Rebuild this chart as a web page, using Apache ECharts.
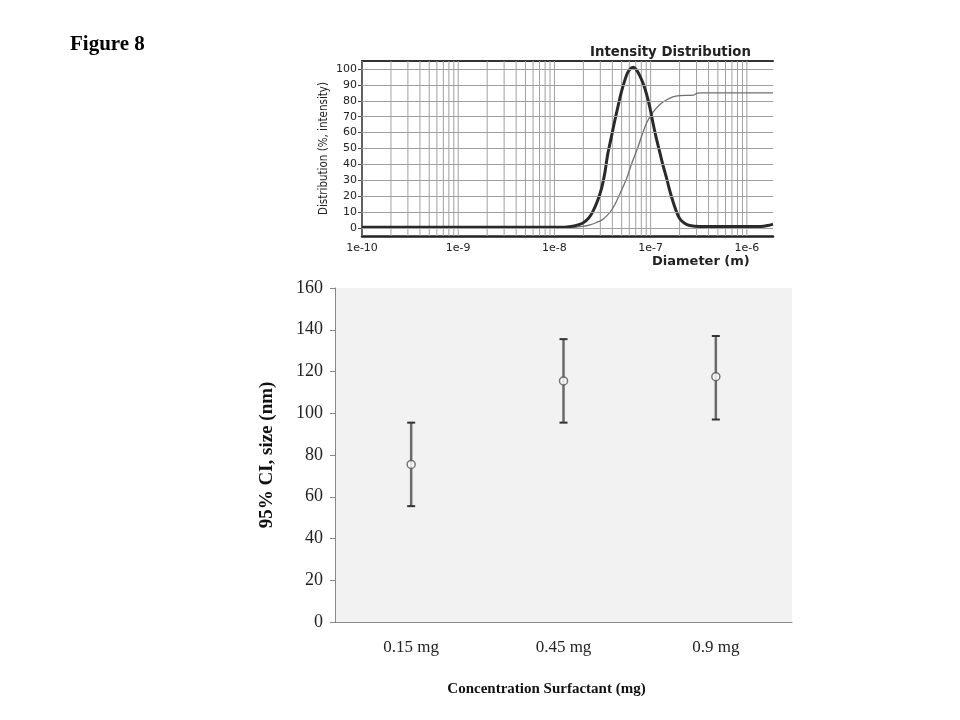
<!DOCTYPE html>
<html><head><meta charset="utf-8">
<script src="https://cdn.jsdelivr.net/npm/echarts@6/dist/echarts.min.js"></script>
<style>html,body{margin:0;padding:0;background:#fff}#c{width:960px;height:720px}</style>
</head><body><div id="c"></div>
<script>
// ---- Top panel: intensity distribution (diameter in m, value in %) ----
const intensityCurve = [
  [1e-10, 0.5], [1.0e-8, 0.5], [1.35e-8, 0.7], [1.65e-8, 1.5], [1.96e-8, 3], [2.25e-8, 6],
  [2.49e-8, 10], [2.8e-8, 17], [3.09e-8, 25], [3.35e-8, 35], [3.57e-8, 46], [3.9e-8, 57],
  [4.22e-8, 67], [4.6e-8, 77], [4.99e-8, 86], [5.4e-8, 93], [5.75e-8, 97.5], [6.2e-8, 100.3],
  [6.6e-8, 101], [7.1e-8, 99.5], [7.68e-8, 96], [8.4e-8, 90.5], [9.08e-8, 84], [9.8e-8, 76],
  [1.05e-7, 67], [1.14e-7, 57], [1.24e-7, 48], [1.35e-7, 39], [1.47e-7, 31], [1.58e-7, 23.5],
  [1.70e-7, 17], [1.85e-7, 10.5], [2.0e-7, 6], [2.25e-7, 3], [2.55e-7, 1.6], [3.24e-7, 1],
  [1.4e-6, 1], [1.65e-6, 1.6], [1.87e-6, 2.5]
];
const cumulativeCurve = [
  [1e-10, 0.3], [1.2e-8, 0.3], [1.6e-8, 0.5], [1.96e-8, 1], [2.35e-8, 2], [2.74e-8, 3.5],
  [3.1e-8, 5], [3.48e-8, 7.5], [3.95e-8, 11.5], [4.43e-8, 17], [5.0e-8, 24], [5.62e-8, 31],
  [6.4e-8, 41], [7.3e-8, 50], [8.1e-8, 58], [9.08e-8, 66], [1.05e-7, 72.5], [1.24e-7, 77.5],
  [1.47e-7, 80.6], [1.70e-7, 82.5], [2.0e-7, 83.3], [2.8e-7, 83.6], [3.05e-7, 84.8],
  [3.4e-7, 85], [1.87e-6, 85]
];
const distYTicks = [0, 10, 20, 30, 40, 50, 60, 70, 80, 90, 100];
const decadeExponents = [-10, -9, -8, -7, -6];
const minorMultipliers = [2, 3, 4, 5, 6, 7, 8, 9];
const diameterMin = 1e-10, diameterMax = 1.87e-6;
const distMin = -5, distMax = 105;

// ---- Bottom panel: 95% CI size ----
const categories = ['0.15 mg', '0.45 mg', '0.9 mg'];
const meanSize = [75.5, 115.5, 117.5];
const lowerCI = [55.5, 95.5, 97];
const upperCI = [95.5, 135.5, 137];

const gridValues = [];
decadeExponents.forEach(e => {
  gridValues.push(Math.pow(10, e));
  minorMultipliers.forEach(m => { const v = m * Math.pow(10, e); if (v < diameterMax) gridValues.push(v); });
});

const serif = 'Liberation Serif, Times New Roman, serif';
const sans = 'DejaVu Sans, sans-serif';
const gridColor = '#a0a0a0';

const chart = echarts.init(document.getElementById('c'), null, {renderer: 'canvas'});
chart.setOption({
  animation: false,
  backgroundColor: '#fff',
  title: [
    {text: 'Figure 8', left: 65, top: 29, textStyle: {fontFamily: serif, fontWeight: 'bold', fontSize: 21, color: '#000'}},
    {text: 'Intensity Distribution', left: 585, top: 41, textStyle: {fontFamily: sans, fontWeight: 'bold', fontSize: 13.3, color: '#222'}},
    {text: 'Diameter (m)', left: 647, top: 250, textStyle: {fontFamily: sans, fontWeight: 'bold', fontSize: 13, color: '#222'}}
  ],
  grid: [
    {left: 362, top: 61, width: 411, height: 175},
    {left: 335, top: 288, width: 457, height: 334, show: true, backgroundColor: '#f2f2f2', borderWidth: 0}
  ],
  xAxis: [
    {gridIndex: 0, type: 'log', logBase: 10, min: diameterMin, max: diameterMax,
     axisLine: {onZero: false, lineStyle: {color: '#222', width: 2.5}},
     axisTick: {show: false}, splitLine: {show: false},
     axisLabel: {formatter: v => '1e' + Math.round(Math.log10(v)), showMaxLabel: false,
                 fontFamily: sans, fontSize: 11, color: '#222', margin: 7}},
    {gridIndex: 0, type: 'log', logBase: 10, position: 'top', min: diameterMin, max: diameterMax,
     axisLine: {onZero: false, lineStyle: {color: '#333', width: 2}},
     axisTick: {show: false}, axisLabel: {show: false}, splitLine: {show: false}},
    {gridIndex: 1, type: 'category', data: categories,
     axisLine: {lineStyle: {color: '#888', width: 1}},
     axisTick: {length: 8, lineStyle: {color: '#888'}},
     axisLabel: {fontFamily: serif, fontSize: 17, color: '#222', margin: 17},
     name: 'Concentration Surfactant (mg)', nameLocation: 'middle', nameGap: 60,
     nameTextStyle: {fontFamily: serif, fontWeight: 'bold', fontSize: 15, color: '#111', padding: [0, 34, 0, 0]}}
  ],
  yAxis: [
    {gridIndex: 0, type: 'value', min: distMin, max: distMax,
     axisLine: {show: true, onZero: false, lineStyle: {color: '#222', width: 2}},
     axisTick: {show: true, customValues: distYTicks, length: 4, lineStyle: {color: '#444'}},
     axisLabel: {customValues: distYTicks, fontFamily: sans, fontSize: 11, color: '#222', margin: 5},
     splitLine: {show: false},
     name: 'Distribution (%, intensity)', nameLocation: 'middle', nameGap: 32,
     nameTextStyle: {fontFamily: 'DejaVu Sans Condensed, Liberation Sans Narrow, sans-serif', fontSize: 11.5, color: '#222'}},
    {gridIndex: 1, type: 'value', min: 0, max: 160, interval: 20,
     axisLine: {show: true, lineStyle: {color: '#888', width: 1}},
     axisTick: {show: true, length: 5, lineStyle: {color: '#888'}},
     axisLabel: {fontFamily: serif, fontSize: 18, color: '#222', margin: 12},
     splitLine: {show: false},
     name: '95% CI, size (nm)', nameLocation: 'middle', nameGap: 58,
     nameTextStyle: {fontFamily: serif, fontWeight: 'bold', fontSize: 19, color: '#111'}}
  ],
  series: [
    // vertical log gridlines (decades + minor 2..9)
    {type: 'custom', name: 'vgrid', xAxisIndex: 0, yAxisIndex: 0, silent: true, z: 1,
     data: gridValues.map(v => [v, 0]), encode: {x: 0, y: 1}, clip: false,
     renderItem: (params, api) => {
       const v = api.value(0);
       const a = api.coord([v, distMin]);
       const b = api.coord([v, distMax]);
       return {type: 'line', shape: {x1: a[0], y1: a[1], x2: b[0], y2: b[1]},
               style: {stroke: gridColor, lineWidth: 1}};
     }},
    // horizontal gridlines
    {type: 'line', name: 'hgrid', xAxisIndex: 0, yAxisIndex: 0, data: [], silent: true, z: 1,
     markLine: {silent: true, symbol: 'none', animation: false, label: {show: false},
                lineStyle: {color: gridColor, width: 1, type: 'solid'},
                data: distYTicks.map(v => ({yAxis: v}))}},
    {type: 'line', name: 'cumulative', xAxisIndex: 0, yAxisIndex: 0, data: cumulativeCurve,
     symbol: 'none', smooth: 0.3, lineStyle: {color: '#707070', width: 1.3}, z: 3},
    {type: 'line', name: 'intensity', xAxisIndex: 0, yAxisIndex: 0, data: intensityCurve,
     symbol: 'none', smooth: 0.3, lineStyle: {color: '#2a2a2a', width: 3}, z: 4},
    {type: 'custom', name: 'ci', xAxisIndex: 2, yAxisIndex: 1,
     data: categories.map((c, i) => [i, lowerCI[i], upperCI[i]]),
     encode: {x: 0, y: [1, 2]}, z: 2,
     renderItem: (params, api) => {
       const x = api.value(0);
       const lo = api.coord([x, api.value(1)]);
       const hi = api.coord([x, api.value(2)]);
       const hw = 4;
       return {type: 'group', children: [
         {type: 'line', shape: {x1: lo[0], y1: lo[1], x2: hi[0], y2: hi[1]}, style: {stroke: '#6a6a6a', lineWidth: 2.5}},
         {type: 'line', shape: {x1: lo[0] - hw, y1: lo[1], x2: lo[0] + hw, y2: lo[1]}, style: {stroke: '#333', lineWidth: 2}},
         {type: 'line', shape: {x1: hi[0] - hw, y1: hi[1], x2: hi[0] + hw, y2: hi[1]}, style: {stroke: '#333', lineWidth: 2}}
       ]};
     }},
    {type: 'scatter', name: 'mean', xAxisIndex: 2, yAxisIndex: 1, data: meanSize,
     symbol: 'circle', symbolSize: 8, itemStyle: {color: '#fff', borderColor: '#555', borderWidth: 1.5}, z: 5}
  ]
});
</script></body></html>
